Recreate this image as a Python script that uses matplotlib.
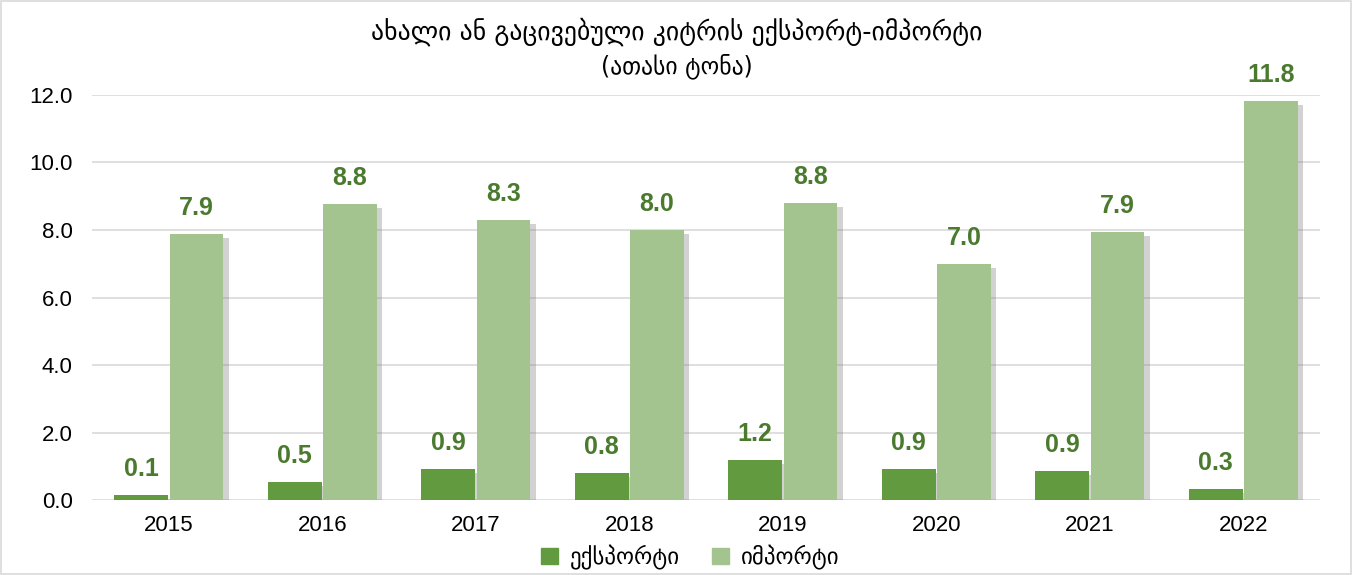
import matplotlib
matplotlib.use("Agg")
import matplotlib.pyplot as plt
import matplotlib.patheffects as pe
from matplotlib.patches import Rectangle, Patch
import numpy as np

years = ["2015", "2016", "2017", "2018", "2019", "2020", "2021", "2022"]
export_vals = [0.14, 0.53, 0.92, 0.80, 1.18, 0.92, 0.86, 0.33]
import_vals = [7.88, 8.77, 8.30, 8.00, 8.80, 6.99, 7.94, 11.82]

title = "ახალი ან გაცივებული კიტრის ექსპორტ-იმპორტი"
subtitle = "(ათასი ტონა)"
export_name = "ექსპორტი"
import_name = "იმპორტი"

export_color = "#629B3F"
import_color = "#A3C48F"
label_color = "#4A7A2E"
geo_font = ["DejaVu Sans"]
num_font = ["Liberation Sans", "DejaVu Sans"]

fig = plt.figure(figsize=(13.54, 5.75), dpi=100)
ax = fig.add_axes([0.068, 0.1304, 0.907, 0.7044])

x = np.arange(len(years))
w = 0.35
shadow = [pe.SimplePatchShadow(offset=(4, -3), shadow_rgbFace="#7f7f7f", alpha=0.35), pe.Normal()]
b1 = ax.bar(x - 0.18, export_vals, w, color=export_color, zorder=3)
b2 = ax.bar(x + 0.18, import_vals, w, color=import_color, zorder=3)
for bars in (b1, b2):
    for b in bars:
        b.set_path_effects(shadow)

for bars, vals in ((b1, export_vals), (b2, import_vals)):
    for b, v in zip(bars, vals):
        ax.annotate(f"{v:.1f}", (b.get_x() + b.get_width() / 2, v), xytext=(0, 10),
                    textcoords="offset points", ha="center", va="bottom",
                    fontsize=18, fontweight="bold", color=label_color, family=num_font)

ax.set_xlim(-0.5, len(years) - 0.5)
ax.set_ylim(0, 12)
ax.set_yticks(np.arange(0, 12.1, 2))
ax.set_yticklabels([f"{t:.1f}" for t in np.arange(0, 12.1, 2)])
ax.set_xticks(x)
ax.set_xticklabels(years)
for lbl in ax.get_xticklabels() + ax.get_yticklabels():
    lbl.set_family(num_font)
    lbl.set_fontsize(16)
ax.tick_params(length=0, pad=14)
ax.tick_params(axis="x", pad=11)
ax.grid(axis="y", color="#D9D9D9", linewidth=1.2, zorder=0)
for s in ax.spines.values():
    s.set_visible(False)
ax.set_axisbelow(True)

fig.text(0.5, 1 - 32 / 575, title, ha="center", va="center", fontsize=18.5, family=geo_font)
fig.text(0.5, 1 - 66 / 575, subtitle, ha="center", va="center", fontsize=17, family=geo_font)

handles = [Patch(color=export_color), Patch(color=import_color)]
fig.legend(handles=handles, labels=[export_name, import_name], loc="center",
           bbox_to_anchor=(690 / 1354, 1 - 557 / 575), ncol=2, frameon=False,
           handlelength=0.75, handleheight=0.75, handletextpad=0.5, columnspacing=1.4,
           prop={"family": geo_font, "size": 16.5})

fig.patches.append(Rectangle((0.001, 0.001), 0.997, 0.997, transform=fig.transFigure,
                             fill=False, edgecolor="#D9D9D9", linewidth=1.2))

fig.savefig("out.png", dpi=100, facecolor="white")
